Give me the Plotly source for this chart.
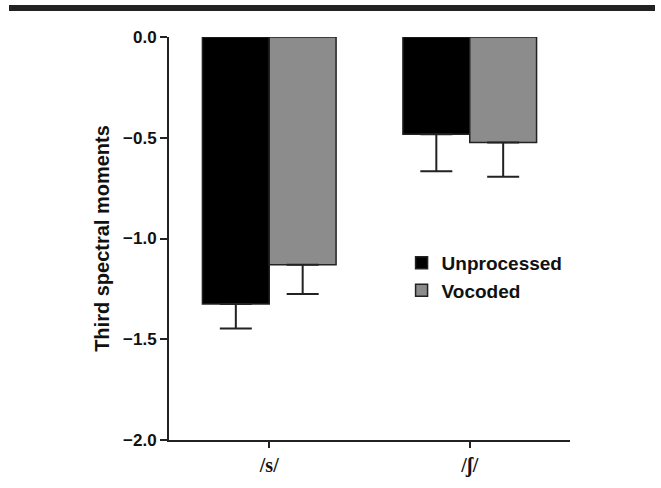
import plotly.graph_objects as go

# Third spectral moments for the two fricatives
categories = ["/s/", "/ʃ/"]
unprocessed = [-1.325, -0.483]
unprocessed_err = [0.122, 0.183]
vocoded = [-1.13, -0.524]
vocoded_err = [0.145, 0.17]
y_ticks = [0.0, -0.5, -1.0, -1.5, -2.0]
y_tick_text = ["0.0", "\u22120.5", "\u22121.0", "\u22121.5", "\u22122.0"]

line_col = "#222222"
text_col = "#111111"

fig = go.Figure()
fig.add_trace(go.Bar(
    name="Unprocessed", x=categories, y=unprocessed,
    marker=dict(color="#000000", line=dict(color=line_col, width=1.5)),
    error_y=dict(type="data", symmetric=False, array=[0, 0], arrayminus=unprocessed_err,
                 color=line_col, thickness=2, width=16),
))
fig.add_trace(go.Bar(
    name="Vocoded", x=categories, y=vocoded,
    marker=dict(color="#8c8c8c", line=dict(color=line_col, width=1.5)),
    error_y=dict(type="data", symmetric=False, array=[0, 0], arrayminus=vocoded_err,
                 color=line_col, thickness=2, width=16),
))

fig.update_layout(
    width=661, height=488,
    margin=dict(l=169, r=91, t=37, b=48),
    paper_bgcolor="white", plot_bgcolor="white",
    barmode="group", bargap=1/3, bargroupgap=0,
    font=dict(family="Liberation Sans, Arial, sans-serif", color=text_col),
    showlegend=True,
    legend=dict(x=0.58, y=0.405, xanchor="left", yanchor="middle",
                font=dict(size=19, weight="bold", color=text_col),
                bgcolor="rgba(0,0,0,0)", tracegroupgap=0),
    shapes=[dict(type="rect", xref="paper", yref="paper",
                 x0=-160/401, x1=486/401, y0=1 + 26/403, y1=1 + 32/403,
                 fillcolor="#222222", line=dict(width=0))],
)
fig.update_xaxes(
    range=[-0.5, 1.5], tickvals=categories, ticktext=[f"<b>{c}</b>" for c in categories],
    showline=True, linecolor=line_col, linewidth=2,
    ticks="outside", ticklen=6, tickwidth=2, tickcolor=line_col,
    tickfont=dict(family="Liberation Serif, Times New Roman, serif", size=20, color=text_col),
    showgrid=False, zeroline=False,
)
fig.update_yaxes(
    range=[-2.0, 0.0], tickvals=y_ticks, ticktext=[f"<b>{t}</b>" for t in y_tick_text],
    showline=True, linecolor=line_col, linewidth=2,
    ticks="outside", ticklen=7, tickwidth=2, tickcolor=line_col,
    tickfont=dict(size=17, color=text_col),
    showgrid=False, zeroline=False,
    title=dict(text="<b>Third spectral moments</b>", font=dict(size=20, color=text_col), standoff=8),
)

fig.write_html("out.html")
